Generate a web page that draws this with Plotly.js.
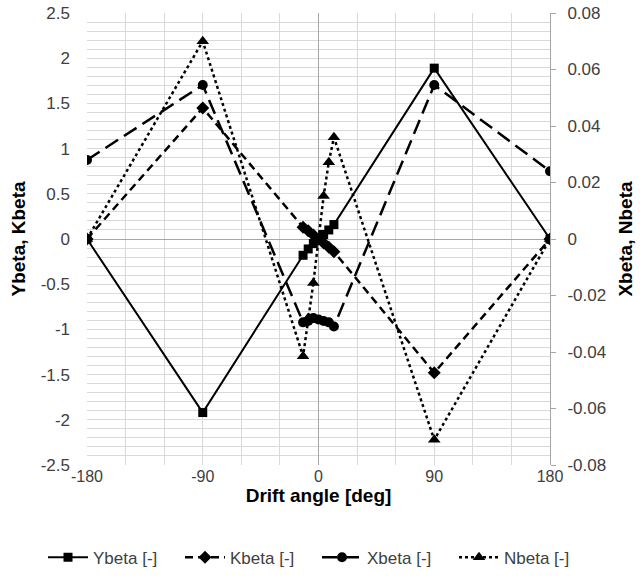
<!DOCTYPE html>
<html>
<head>
<meta charset="utf-8">
<script src="https://cdn.plot.ly/plotly-3.0.1.min.js"></script>
<style>html,body{margin:0;padding:0;background:#fff;}#chart{width:640px;height:588px;}</style>
</head>
<body>
<div id="chart"></div>
<script>
// Drift angles [deg]
const driftAngle = [-180, -90, -12, -8, -4, 0, 4, 8, 12, 90, 180];
// Left axis series
const ybeta = [0, -1.92, -0.18, -0.11, -0.05, 0, 0.05, 0.10, 0.16, 1.89, 0];
const kbeta = [0, 1.45, 0.13, 0.09, 0.045, 0, -0.045, -0.09, -0.14, -1.48, 0];
// Right axis series
const xbeta = [0.028, 0.0545, -0.0295, -0.029, -0.028, -0.0285, -0.029, -0.0295, -0.031, 0.0545, 0.024];
const nbeta = [0, 0.070, -0.0415, -0.028, -0.0156, 0, 0.0152, 0.0272, 0.036, -0.0711, 0];

const xTicks = [-180, -90, 0, 90, 180];
const xTickText = ['-180', '-90', '0', '90', '180'];
const yTicks = [2.5, 2, 1.5, 1, 0.5, 0, -0.5, -1, -1.5, -2, -2.5];
const yTickText = ['2.5', '2', '1.5', '1', '0.5', '0', '-0.5', '-1', '-1.5', '-2', '-2.5'];
const y2Ticks = [0.08, 0.06, 0.04, 0.02, 0, -0.02, -0.04, -0.06, -0.08];
const y2TickText = ['0.08', '0.06', '0.04', '0.02', '0', '-0.02', '-0.04', '-0.06', '-0.08'];

const FONT = 'Liberation Sans, Arial, sans-serif';
const traces = [
  {x: driftAngle, y: ybeta, name: 'Ybeta [-]', mode: 'lines+markers', yaxis: 'y',
   line: {color: '#000', width: 2, dash: 'solid'}, marker: {symbol: 'square', size: 9, color: '#000'}},
  {x: driftAngle, y: kbeta, name: 'Kbeta [-]', mode: 'lines+markers', yaxis: 'y',
   line: {color: '#000', width: 2.5, dash: '8px,5px'}, marker: {symbol: 'diamond', size: 10, color: '#000'}},
  {x: driftAngle, y: xbeta, name: 'Xbeta [-]', mode: 'lines+markers', yaxis: 'y2',
   line: {color: '#000', width: 2.5, dash: '15px,7px'}, marker: {symbol: 'circle', size: 10, color: '#000'}},
  {x: driftAngle, y: nbeta, name: 'Nbeta [-]', mode: 'lines+markers', yaxis: 'y2',
   line: {color: '#000', width: 2.5, dash: 'dot'}, marker: {symbol: 'triangle-up', size: 11, color: '#000'}}
];

const layout = {
  width: 640, height: 588,
  margin: {l: 87, r: 90, t: 13, b: 123},
  paper_bgcolor: '#fff', plot_bgcolor: '#fff',
  font: {family: FONT, size: 16, color: '#404040'},
  showlegend: true,
  legend: {orientation: 'h', x: -0.095, xanchor: 'left',
           y: -0.205, yanchor: 'middle',
           font: {family: FONT, size: 17, color: '#404040'}, itemwidth: 40, tracegroupgap: 0,
           entrywidth: 82},
  xaxis: {
    range: [-180, 180], tickvals: xTicks, ticktext: xTickText, automargin: false,
    showgrid: true, gridcolor: '#d9d9d9', gridwidth: 1,
    minor: {dtick: 30, tick0: -180, showgrid: true, gridcolor: '#d9d9d9', gridwidth: 1},
    zeroline: true, zerolinecolor: '#a6a6a6', zerolinewidth: 1,
    showline: false, ticks: '', ticklabelstandoff: 0,
    tickfont: {family: FONT, size: 16, color: '#404040'},
    title: {text: '<b>Drift angle [deg]</b>', font: {family: FONT, size: 19, color: '#000'}, standoff: 0}
  },
  yaxis: {
    range: [-2.5, 2.5], tickvals: yTicks, ticktext: yTickText, automargin: false,
    showgrid: true, gridcolor: '#d9d9d9', gridwidth: 1,
    minor: {dtick: 0.1, tick0: 0, showgrid: true, gridcolor: '#d9d9d9', gridwidth: 1},
    zeroline: true, zerolinecolor: '#a6a6a6', zerolinewidth: 1,
    showline: false, ticks: '', ticklabelstandoff: 16,
    tickfont: {family: FONT, size: 17, color: '#404040'},
    title: {text: '<b>Ybeta, Kbeta</b>', font: {family: FONT, size: 19, color: '#000'}, standoff: 10}
  },
  yaxis2: {
    range: [-0.08, 0.08], tickvals: y2Ticks, ticktext: y2TickText, automargin: false,
    overlaying: 'y', side: 'right', showgrid: false, zeroline: false,
    showline: true, linecolor: '#a6a6a6', linewidth: 1,
    ticks: 'outside', ticklen: 5, tickcolor: '#a6a6a6', ticklabelstandoff: 8,
    tickfont: {family: FONT, size: 17, color: '#404040'},
    title: {text: '<b>Xbeta, Nbeta</b>', font: {family: FONT, size: 19, color: '#000'}, standoff: 13}
  }
};

Plotly.newPlot('chart', traces, layout, {displayModeBar: false, staticPlot: true});
</script>
</body>
</html>
